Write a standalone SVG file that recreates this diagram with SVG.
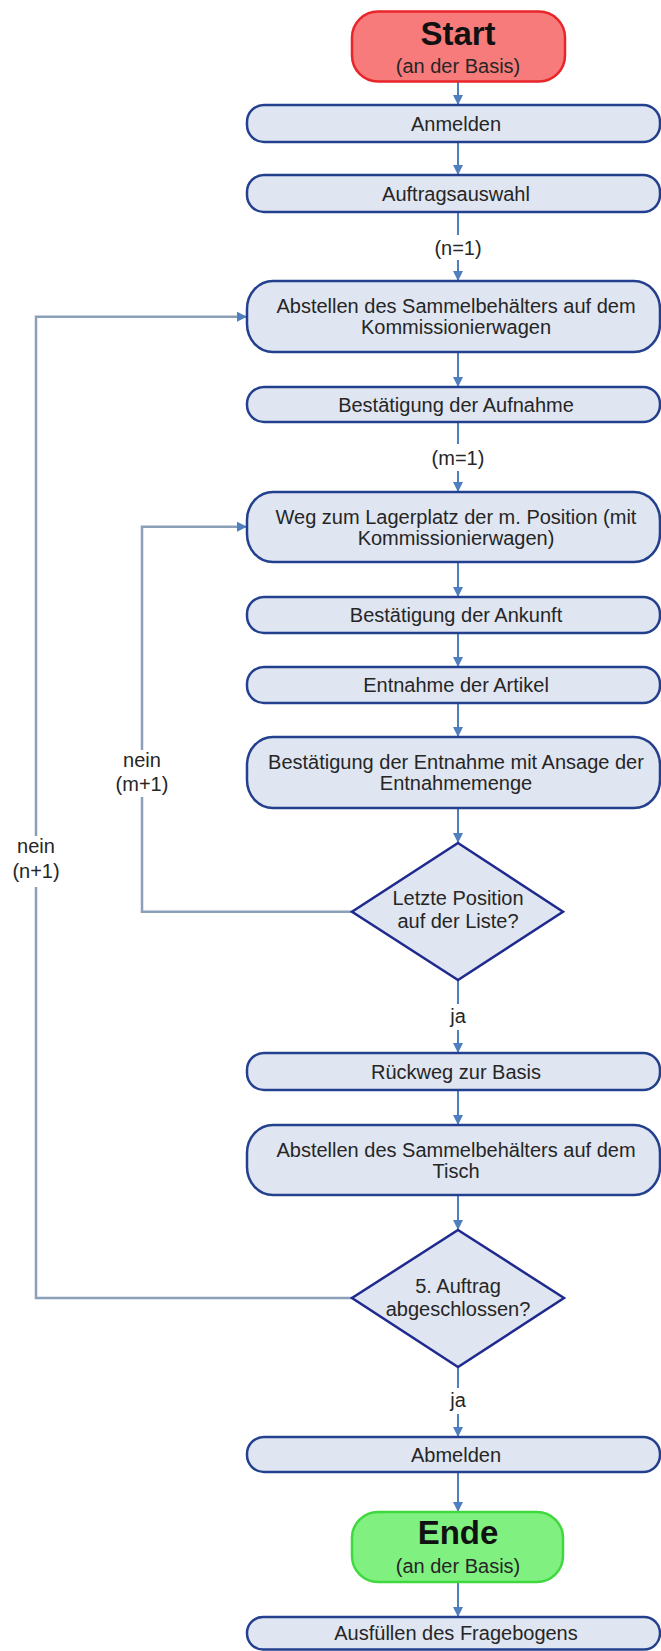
<svg xmlns="http://www.w3.org/2000/svg" width="661" height="1651" viewBox="0 0 661 1651">
<defs>
<marker id="ah" markerUnits="userSpaceOnUse" markerWidth="10" markerHeight="10" refX="10" refY="5" orient="auto">
<path d="M0,0 L10,5 L0,10 z" fill="#4f7fbf"/>
</marker>
<style>
.box{fill:#dfe5f1;stroke:#23408e;stroke-width:2.5}
.dia{fill:#dfe5f1;stroke:#1f2a8f;stroke-width:2.5}
.start{fill:#f77b7b;stroke:#e8262a;stroke-width:2.5}
.ende{fill:#80f080;stroke:#3fd93f;stroke-width:2.5}
.t{font-family:"Liberation Sans",Arial,sans-serif;font-size:20px;fill:#262626;text-anchor:middle}
.big{font-family:"Liberation Sans",Arial,sans-serif;font-size:33px;font-weight:bold;fill:#111;text-anchor:middle}
.v{stroke:#4f7fbf;stroke-width:2;fill:none}
.loop{stroke:#8c9fb8;stroke-width:2.5;fill:none}
</style>
</defs>
<rect width="661" height="1651" fill="#ffffff"/>

<g id="connectors">
<line class="v" x1="458" y1="82" x2="458" y2="105" marker-end="url(#ah)"/>
<line class="v" x1="458" y1="142" x2="458" y2="175" marker-end="url(#ah)"/>
<line class="v" x1="458" y1="212" x2="458" y2="235"/>
<line class="v" x1="458" y1="260" x2="458" y2="281" marker-end="url(#ah)"/>
<line class="v" x1="458" y1="352" x2="458" y2="387" marker-end="url(#ah)"/>
<line class="v" x1="458" y1="422" x2="458" y2="444"/>
<line class="v" x1="458" y1="471" x2="458" y2="492" marker-end="url(#ah)"/>
<line class="v" x1="458" y1="562" x2="458" y2="597" marker-end="url(#ah)"/>
<line class="v" x1="458" y1="633" x2="458" y2="667" marker-end="url(#ah)"/>
<line class="v" x1="458" y1="703" x2="458" y2="737" marker-end="url(#ah)"/>
<line class="v" x1="458" y1="808" x2="458" y2="843" marker-end="url(#ah)"/>
<line class="v" x1="458" y1="980" x2="458" y2="1004"/>
<line class="v" x1="458" y1="1030" x2="458" y2="1053" marker-end="url(#ah)"/>
<line class="v" x1="458" y1="1090" x2="458" y2="1125" marker-end="url(#ah)"/>
<line class="v" x1="458" y1="1195" x2="458" y2="1230" marker-end="url(#ah)"/>
<line class="v" x1="458" y1="1367" x2="458" y2="1388"/>
<line class="v" x1="458" y1="1414" x2="458" y2="1437" marker-end="url(#ah)"/>
<line class="v" x1="458" y1="1472" x2="458" y2="1512" marker-end="url(#ah)"/>
<line class="v" x1="458" y1="1582" x2="458" y2="1617" marker-end="url(#ah)"/>
<polyline class="loop" points="352,911.7 142,911.7 142,797"/>
<polyline class="loop" points="142,750 142,526.7 238,526.7"/>
<line class="v" x1="238" y1="526.7" x2="247" y2="526.7" marker-end="url(#ah)"/>
<polyline class="loop" points="352,1298 36,1298 36,887"/>
<polyline class="loop" points="36,836 36,316.7 238,316.7"/>
<line class="v" x1="238" y1="316.7" x2="247" y2="316.7" marker-end="url(#ah)"/>
<text class="t" x="458" y="255">(n=1)</text>
<text class="t" x="458" y="465">(m=1)</text>
<text class="t" x="458" y="1023">ja</text>
<text class="t" x="458" y="1407">ja</text>
<text class="t" x="142" y="767">nein</text>
<text class="t" x="142" y="791">(m+1)</text>
<text class="t" x="36" y="853">nein</text>
<text class="t" x="36" y="878">(n+1)</text>
</g>

<g id="start">
<rect class="start" x="352" y="11.5" width="213" height="70" rx="26" ry="26"/>
<text class="big" x="458" y="45">Start</text>
<text class="t" x="458" y="73">(an der Basis)</text>
</g>
<g id="anmelden">
<rect class="box" x="247" y="105" width="413" height="37" rx="17" ry="17"/>
<text class="t" x="456" y="130.5">Anmelden</text>
</g>
<g id="auftragsauswahl">
<rect class="box" x="247" y="175" width="413" height="37" rx="17" ry="17"/>
<text class="t" x="456" y="200.5">Auftragsauswahl</text>
</g>
<g id="abstellen1">
<rect class="box" x="247" y="281" width="413" height="71" rx="26" ry="28"/>
<text class="t" x="456" y="313">Abstellen des Sammelbehälters auf dem</text>
<text class="t" x="456" y="334">Kommissionierwagen</text>
</g>
<g id="bestaetigung-aufnahme">
<rect class="box" x="247" y="387" width="413" height="35" rx="17" ry="17"/>
<text class="t" x="456" y="411.5">Bestätigung der Aufnahme</text>
</g>
<g id="weg">
<rect class="box" x="247" y="492" width="413" height="70" rx="26" ry="28"/>
<text class="t" x="456" y="523.5">Weg zum Lagerplatz der m. Position (mit</text>
<text class="t" x="456" y="544.5">Kommissionierwagen)</text>
</g>
<g id="bestaetigung-ankunft">
<rect class="box" x="247" y="597" width="413" height="36" rx="17" ry="17"/>
<text class="t" x="456" y="622">Bestätigung der Ankunft</text>
</g>
<g id="entnahme">
<rect class="box" x="247" y="667" width="413" height="36" rx="17" ry="17"/>
<text class="t" x="456" y="692">Entnahme der Artikel</text>
</g>
<g id="bestaetigung-entnahme">
<rect class="box" x="247" y="737" width="413" height="71" rx="26" ry="28"/>
<text class="t" x="456" y="769">Bestätigung der Entnahme mit Ansage der</text>
<text class="t" x="456" y="790">Entnahmemenge</text>
</g>
<g id="letzte-position">
<polygon class="dia" points="458,843 563,911.7 458,980 352,911.7"/>
<text class="t" x="458" y="905">Letzte Position</text>
<text class="t" x="458" y="928">auf der Liste?</text>
</g>
<g id="rueckweg">
<rect class="box" x="247" y="1053" width="413" height="37" rx="17" ry="17"/>
<text class="t" x="456" y="1078.5">Rückweg zur Basis</text>
</g>
<g id="abstellen2">
<rect class="box" x="247" y="1125" width="413" height="70" rx="26" ry="28"/>
<text class="t" x="456" y="1156.5">Abstellen des Sammelbehälters auf dem</text>
<text class="t" x="456" y="1177.5">Tisch</text>
</g>
<g id="auftrag-abgeschlossen">
<polygon class="dia" points="458,1230 564,1298 458,1367 352,1298"/>
<text class="t" x="458" y="1293">5. Auftrag</text>
<text class="t" x="458" y="1316">abgeschlossen?</text>
</g>
<g id="abmelden">
<rect class="box" x="247" y="1437" width="413" height="35" rx="17" ry="17"/>
<text class="t" x="456" y="1461.5">Abmelden</text>
</g>
<g id="ende">
<rect class="ende" x="352" y="1512" width="211" height="70" rx="26" ry="26"/>
<text class="big" x="458" y="1544">Ende</text>
<text class="t" x="458" y="1573">(an der Basis)</text>
</g>
<g id="ausfuellen">
<rect class="box" x="247" y="1617" width="413" height="32.5" rx="16" ry="16"/>
<text class="t" x="456" y="1640">Ausfüllen des Fragebogens</text>
</g>
</svg>
